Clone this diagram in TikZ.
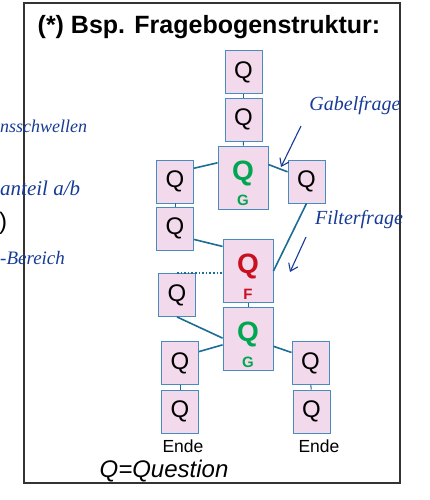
\documentclass[tikz,border=0pt]{standalone}
\usepackage{fontspec}
\setmainfont{Liberation Sans}
\newfontfamily\handfont{Liberation Serif}
\definecolor{qPink}{RGB}{243,217,236}
\definecolor{boxBlue}{RGB}{72,140,188}
\definecolor{linkBlue}{RGB}{28,108,148}
\definecolor{qGreen}{RGB}{0,166,81}
\definecolor{qRed}{RGB}{200,16,32}
\definecolor{inkBlue}{RGB}{22,58,150}
\usepackage{tikz}
\usetikzlibrary{arrows.meta,positioning}

\begin{document}
\begin{tikzpicture}[x=1pt,y=-1pt,
    qbox/.style={draw=boxBlue,fill=qPink,line width=0.9pt,minimum width=37pt,minimum height=43pt,inner sep=0pt,font=\fontsize{24}{24}\selectfont},
    qbig/.style={qbox,minimum width=50pt,minimum height=63pt,text height=20pt,text depth=15pt,font=\bfseries\fontsize{28}{28}\selectfont},
    qtag/.style={inner sep=0pt,font=\bfseries\fontsize{15}{15}\selectfont},
    link/.style={linkBlue,line width=1.6pt},
    ink/.style={inkBlue,font=\handfont\itshape\fontsize{20}{20}\selectfont,inner sep=0pt},
    inkarrow/.style={inkBlue,line width=1.1pt,-{Straight Barb[length=7pt,width=10pt]}}]
  \clip (0,0) rectangle (429,500);
  % frame and title
  \draw[line width=1.2pt,black!80] (24,3) rectangle (400,483);
  \node[font=\bfseries\fontsize{25}{25}\selectfont] (title) at (209,27) {(*) Bsp. Fragebogenstruktur:};
  % upper column
  \node[qbox] (Q1) at (243.5,72) {Q};
  \node[qbox] (Q2) at (243.5,119.5) {Q};
  \node[qbig,text=qGreen] (G1) at (243,177.5) {Q};
  \node[qtag,text=qGreen] (G1tag) at ([yshift=9pt]G1.south) {G};
  \node[qbox] (L1) at (175,181.5) {Q};
  \node[qbox] (R1) at (306.5,181.5) {Q};
  \node[qbox] (L2) at (175,228.5) {Q};
  % filter and lower part
  \node[qbig,text=qRed] (F) at (248,271) {Q};
  \node[qtag,text=qRed] (Ftag) at ([yshift=9pt]F.south) {F};
  \node[qbox] (L3) at (177,295) {Q};
  \node[qbig,text=qGreen] (G2) at (248,339) {Q};
  \node[qtag,text=qGreen] (G2tag) at ([yshift=9pt]G2.south) {G};
  \node[qbox] (LL1) at (180,363) {Q};
  \node[qbox] (LL2) at (180,411.5) {Q};
  \node[qbox] (RR1) at (310.5,363) {Q};
  \node[qbox] (RR2) at (311.5,411.5) {Q};
  \node[font=\fontsize{17.5}{17.5}\selectfont] (endL) at (183,446) {Ende};
  \node[font=\fontsize{17.5}{17.5}\selectfont] (endR) at (319,446) {Ende};
  \node[font=\itshape\fontsize{24}{24}\selectfont] (legend) at (164,471) {Q=Question};
  % connectors
  \draw[link,line width=1pt] (Q1) -- (Q2);
  \draw[link,line width=1pt] (Q2) -- (G1);
  \draw[link] (L1.35) -- (G1.150);
  \draw[link] (G1.27) -- (R1.153);
  \draw[link,line width=1pt] (L1) -- (L2);
  \draw[link] (L2.-30) -- (F.136);
  \draw[link] (R1.south) -- (F.east);
  \draw[link,dotted] (L3.north) -- (L3.north -| F.west);
  \draw[link,line width=1pt] (F) -- (G2);
  \draw[link] (L3.south) -- (G2.178);
  \draw[link] (LL1.31) -- (G2.193);
  \draw[link] (G2.-16) -- (RR1.151);
  \draw[link,line width=1pt] (LL1) -- (LL2);
  \draw[link,line width=1pt] (RR1) -- (RR2);
  % handwritten notes
  \node[ink] (gabel) at (355,106) {Gabelfrage};
  \node[ink] (filter) at (359,220) {Filterfrage};
  \coordinate (gabelTip) at (281,167);
  \coordinate (filterTip) at (290,272);
  \draw[inkarrow] (301,126) -- (gabelTip);
  \draw[inkarrow] (306,237) -- (filterTip);
  \node[ink,anchor=west,font=\handfont\itshape\fontsize{18}{18}\selectfont] (noteA) at (0,126) {nsschwellen};
  \node[ink,anchor=west,font=\handfont\itshape\fontsize{21}{21}\selectfont] (noteB) at (0,188) {anteil a/b};
  \node[anchor=west,inner sep=0pt,font=\fontsize{24}{24}\selectfont] (paren) at (-1,223) {)};
  \node[ink,anchor=west,font=\handfont\itshape\fontsize{19}{19}\selectfont] (noteC) at (0,258) {-Bereich};
\end{tikzpicture}
\end{document}
